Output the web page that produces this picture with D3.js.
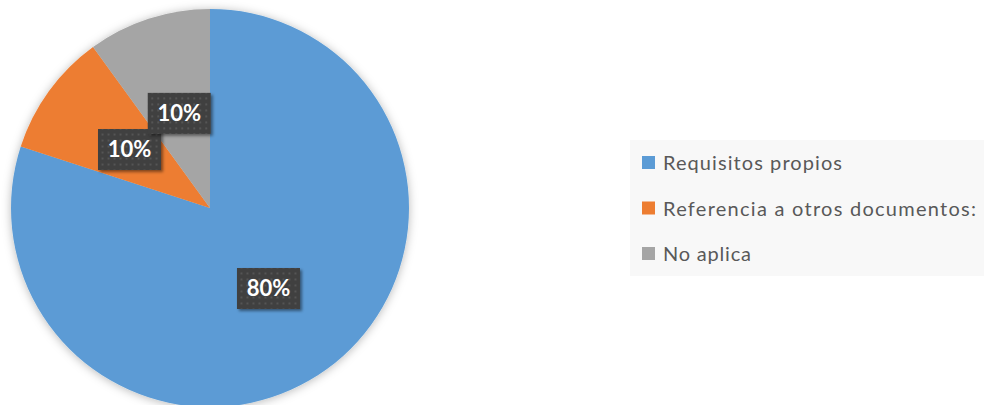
<!DOCTYPE html>
<html>
<head>
<meta charset="utf-8">
<script src="https://cdn.jsdelivr.net/npm/d3@7"></script>
<style>
  body { margin: 0; background: #fff; }
  svg { display: block; }
</style>
</head>
<body>
<div id="chart"></div>
<script>
// 資料
var categories = ["Requisitos propios", "Referencia a otros documentos:", "No aplica"];
var values = [80, 10, 10];
var colors = ["#5B9BD5", "#ED7D31", "#A5A5A5"];

var width = 985, height = 405;
var cx = 210, cy = 208, radius = 199;

var svg = d3.select("#chart").append("svg")
  .attr("width", width)
  .attr("height", height);

var defs = svg.append("defs");

// 圓餅陰影
var pieShadow = defs.append("filter").attr("id", "pieShadow")
  .attr("x", "-10%").attr("y", "-10%").attr("width", "120%").attr("height", "120%");
pieShadow.append("feDropShadow")
  .attr("dx", 0).attr("dy", 1).attr("stdDeviation", 5)
  .attr("flood-color", "#000").attr("flood-opacity", 0.28);

// 標籤陰影
var labelShadow = defs.append("filter").attr("id", "labelShadow")
  .attr("x", "-20%").attr("y", "-20%").attr("width", "150%").attr("height", "150%");
labelShadow.append("feDropShadow")
  .attr("dx", 2).attr("dy", 2).attr("stdDeviation", 1.5)
  .attr("flood-color", "#000").attr("flood-opacity", 0.45);

// 點狀填滿
var pattern = defs.append("pattern").attr("id", "dots")
  .attr("patternUnits", "userSpaceOnUse")
  .attr("width", 6).attr("height", 6);
pattern.append("rect").attr("width", 6).attr("height", 6).attr("fill", "#404040");
pattern.append("rect").attr("x", 2).attr("y", 2).attr("width", 2).attr("height", 2).attr("fill", "#555555");

var data = categories.map(function (c, i) { return { name: c, value: values[i], color: colors[i] }; });

var pie = d3.pie().sort(null).value(d => d.value);
var arc = d3.arc().innerRadius(0).outerRadius(radius);
var labelArc = d3.arc().innerRadius(radius / 2).outerRadius(radius / 2);
var total = d3.sum(values);

var g = svg.append("g").attr("transform", "translate(" + cx + "," + cy + ")");

g.append("g").attr("filter", "url(#pieShadow)")
  .selectAll("path")
  .data(pie(data))
  .enter().append("path")
  .attr("d", arc)
  .attr("fill", d => d.data.color);

// 資料標籤
var boxW = 63, boxH = 41;
var labels = g.selectAll("g.lbl")
  .data(pie(data))
  .enter().append("g")
  .attr("class", "lbl")
  .attr("transform", d => "translate(" + labelArc.centroid(d) + ")");

labels.append("rect")
  .attr("x", -boxW / 2).attr("y", -boxH / 2)
  .attr("width", boxW).attr("height", boxH)
  .attr("fill", "url(#dots)")
  .attr("filter", "url(#labelShadow)");

labels.append("text")
  .attr("text-anchor", "middle")
  .attr("dy", "0.36em")
  .style("font-family", "Lato, 'Open Sans', sans-serif")
  .style("font-weight", "bold")
  .style("font-size", "22px")
  .attr("fill", "#fff")
  .text(d => Math.round(d.data.value / total * 100) + "%");

// 圖例
var legend = svg.append("g");
legend.append("rect")
  .attr("x", 630).attr("y", 140)
  .attr("width", 354).attr("height", 136)
  .attr("fill", "#f8f8f8");

var legendY = d3.scalePoint().domain(categories).range([163, 254]);
var legendWidths = [179, 313, 88];

var item = legend.selectAll("g.item")
  .data(data)
  .enter().append("g")
  .attr("class", "item")
  .attr("transform", d => "translate(642," + legendY(d.name) + ")");

item.append("rect")
  .attr("x", 0).attr("y", -7)
  .attr("width", 13).attr("height", 13)
  .attr("fill", d => d.color);

item.append("text")
  .attr("x", 21)
  .attr("dy", "0.35em")
  .attr("textLength", (d, i) => legendWidths[i])
  .attr("lengthAdjust", "spacing")
  .style("font-family", "Lato, 'Open Sans', sans-serif")
  .style("font-size", "20px")
  .attr("fill", "#595959")
  .text(d => d.name);
</script>
</body>
</html>
